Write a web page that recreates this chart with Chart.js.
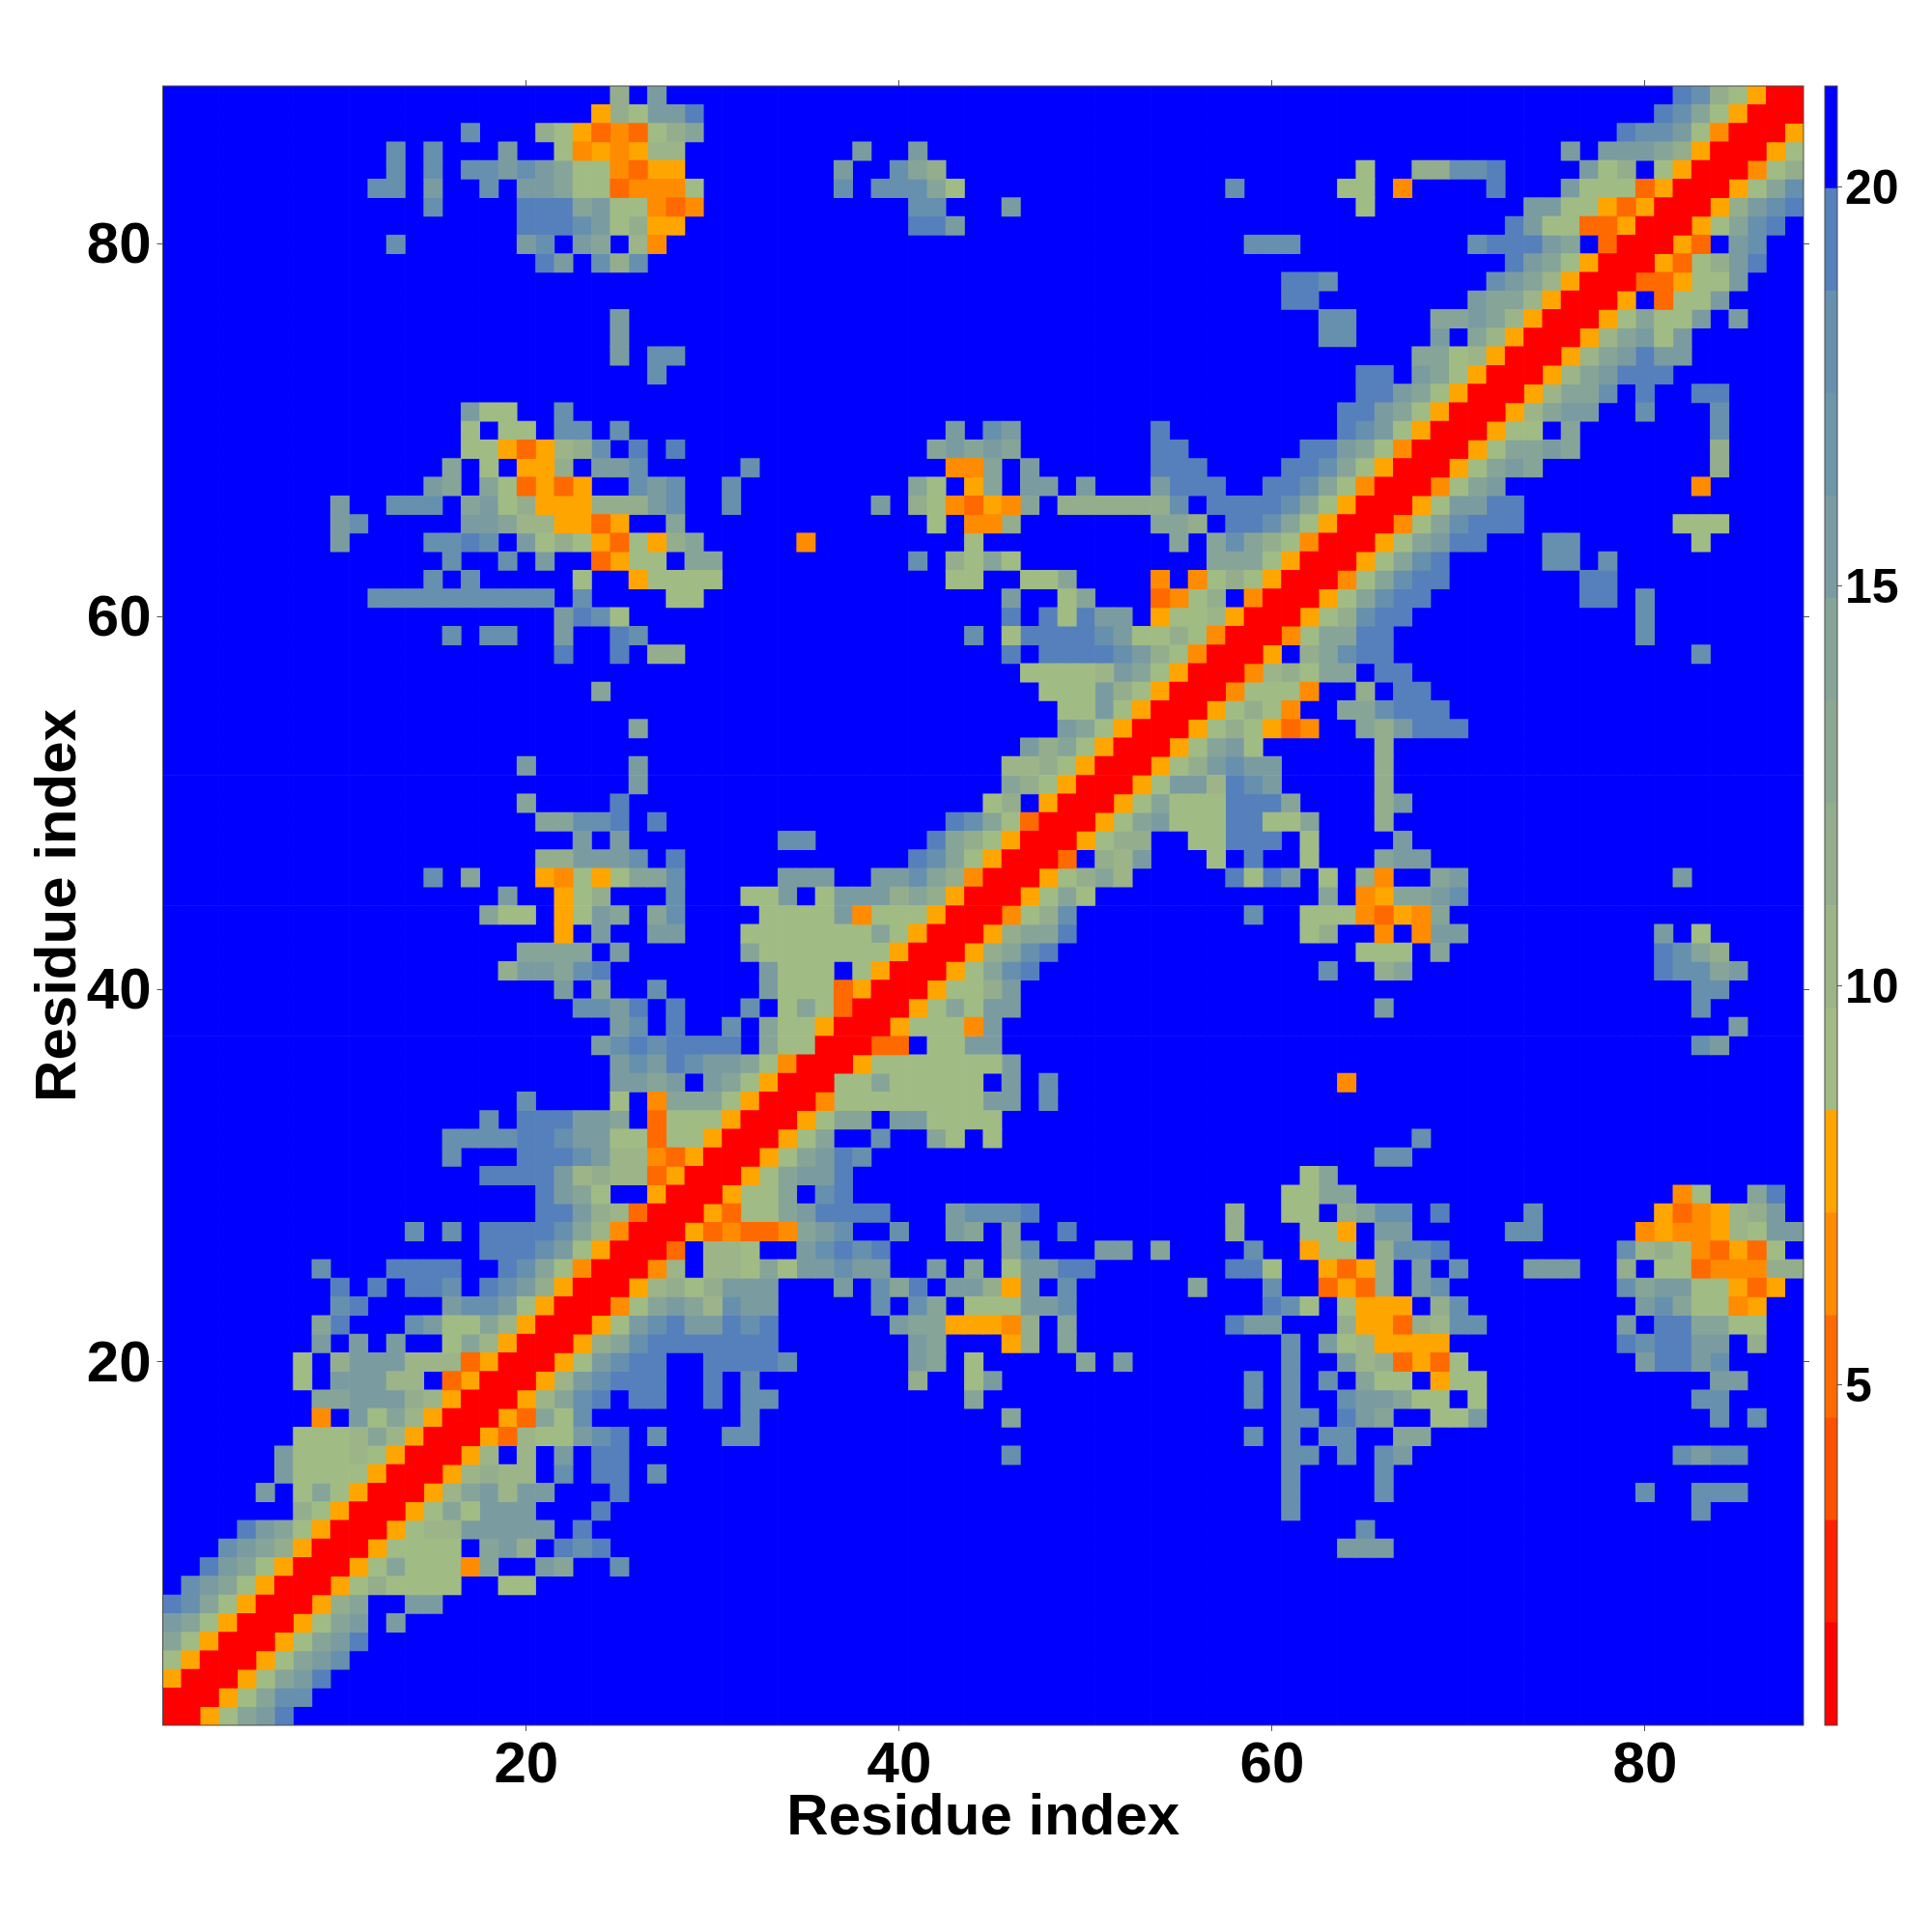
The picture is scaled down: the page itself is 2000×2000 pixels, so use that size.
<!DOCTYPE html>
<html><head><meta charset="utf-8">
<style>html,body{margin:0;padding:0;background:#fff}canvas{position:absolute;top:0}</style>
<script src="https://cdn.jsdelivr.net/npm/chart.js@4"></script></head>
<body><canvas id="map" width="2000" height="2000" style="left:0"></canvas>
<canvas id="bar" width="120" height="2000" style="left:1880px"></canvas>
<script>
const axisLabel = "Residue index";
const residueCount = 88;
const axisTicks = [20, 40, 60, 80];
const colorbarTicks = [5, 10, 15, 20];
const colorbarMin = 0.74, colorbarMax = 21.26;
const bandColors = ["#ff0000","#ff2000","#ff5000","#ff6a00","#ff8c00","#ffa500","#a1bb84","#9cb488","#94ad8c","#8da892","#86a598","#7a9ca0","#6d96a8","#6690ae","#5580bb","#0000ff"];
const bandOfCode = {"0":0,"3":3,"4":4,"5":5,"6":6,"7":7,"8":8,"9":10,"a":11,"b":13,"c":14,".":15};
// One list per residue y (1..88): [first residue x, band codes]; cells not listed are beyond the cutoff.
const contactRows = [
[[1,"0"]],
[[1,"00"]],
[[1,"500"]],
[[1,"6500"]],
[[1,"96500"]],
[[1,"a96500"]],
[[1,"cb96500"]],
[[2,"ba96500"]],
[[3,"ca96500"]],
[[4,"ba98500"]],
[[5,"ca96500"]],
[[8,"86500"]],
[[6,"a.696500"]],
[[7,"a6666500"]],
[[7,"a66676500"]],
[[8,"666797500"]],
[[9,"4.a697500"]],
[[9,"99aaa87500"]],
[[8,"6.aaa77.3500"]],
[[8,"6.8aaa7773500"]],
[[9,"a.a.a..697500"]],
[[9,"9c...ba6697500"]],
[[10,"bc....abba6500"]],
[[10,"c.c.ccb.cba8500"]],
[[9,"b...cccc..cb96400"]],
[[18,"cccba6500"]],
[[14,"b.b.ccccb97400"]],
[[21,"cca87300"]],
[[21,"ca96..500"]],
[[18,"cccca78773500"]],
[[16,"b...cccba7743500"]],
[[16,"bbbbccbaa66366500"]],
[[18,"b.cccaa9.3666500"]],
[[20,"b"],[25,"6.49996500"]],
[[25,"aa9a.a96500"]],
[[25,"abacbaa96400"]],
[[24,"abcbcccc.96600"]],
[[25,"ab.c..b.966500"]],
[[23,"bbac.c...b.696300"]],
[[22,"a.9..b.....a6663500"]],
[[19,"8aa9bc"],[33,"a666.6500"]],
[[20,"9999.a"],[32,"96666666500"]],
[[22,"5.a..aa"],[32,"666666696500"]],
[[18,"966.56a9.9b"],[33,"6666a4666500"]],
[[19,"a..568...b"],[32,"66a.6aaa898500"]],
[[15,"b.9...5465699b"],[34,"aaa..aab98400"]],
[[21,"88aaab.c"],[41,"cb96500"]],
[[23,"a.a"],[34,"bb"],[42,"c986500"]],
[[21,"99bbc.c"],[43,"cb96300"]],
[[20,"9....c"],[45,"68.500"]],
[[26,"a"],[46,"986500"]],
[[20,"a.....a"],[46,"7786500"]],
[[47,"a896500"]],
[[26,"9"],[49,"a96500"]],
[[49,"66a6500"]],
[[24,"9"],[48,"666a86500"]],
[[47,"66667a96500"]],
[[22,"c..c.88"],[46,"c.ccccba86400"]],
[[16,"b.bb..a..cb"],[44,"b.6ccccba6686400"]],
[[22,"acb6"],[46,"c.c6caa.5667500"]],
[[12,"bbbbbbbbbb.b"],[28,"66"],[46,"a..69...3468.400"]],
[[15,"b.b.....6..56666"],[43,"66..669....4.4686500"]],
[[16,"b..b.a..3566.99"],[41,"b.8696"],[57,"9996500"]],
[[10,"a....bbcb.a686536589"],[35,"4"],[44,"6"],[55,"9.9b986400"]],
[[10,"ab.....aa9775535..9"],[42,"6.448"],[54,"998.ccb96500"]],
[[10,"a..bbb.9a68555888ab"],[31,"b"],[39,"a.8643549.888888b.ccccb96500"]],
[[15,"a9.963535..bab"],[31,"b"],[41,"96.59.aa.a...accc"],[60,"ccb96400"]],
[[16,"9.6.558.aab"],[32,"b"],[43,"449.a"],[54,"ccc"],[61,"ccb96500"]],
[[17,"6653578b.c.c"],[42,"9a9a9"],[54,"cc"],[62,"cca96400"]],
[[17,"6.66.bb.b"],[43,"a.ba"],[54,"c"],[64,"cba6500"]],
[[17,"a66..b"],[64,"cca96500"]],
[[65,"cca96500"]],
[[27,"b"],[65,"cc.a96500"]],
[[25,"a.bb"],[68,"9967500"]],
[[25,"a"],[63,"bb"],[69,"a.97500"]],
[[25,"a"],[63,"bb"],[69,"99a97500"]],
[[61,"cc"],[71,"a997500"]],
[[61,"ccb"],[72,"ba97500"]],
[[21,"ca.b8b"],[73,"ca96500"]],
[[13,"b"],[20,"ab.a9.74"],[59,"bbb"],[71,"bccca9.300"]],
[[20,"cccba6855"],[41,"cca"],[73,"ca6633500"]],
[[15,"b"],[20,"ccc9a66434"],[41,"bb"],[46,"a"],[65,"6"],[74,"aa6653500"]],
[[12,"bb.a..b.aa96634446"],[37,"b.bbb96"],[58,"b"],[64,"66.4"],[72,"c"],[76,"a6663500"]],
[[13,"b.b.bbaba9664355"],[37,"a..b98"],[65,"6..88bbc"],[77,"a68.6500"]],
[[13,"b.b...a..6454577"],[38,"a..a"],[76,"a.aaa98500"]],
[[17,"b...865343689"],[79,"cbba6400"]],
[[24,"586aac"],[81,"cb96500"]],
[[25,"8.a"],[82,"cb86500"]]
];

const FONT = "'Liberation Sans', Arial, sans-serif";
const TICK = "#555";
const FRAME = {left:168.5, right:1867, top:89, bottom:1786};

// band of each cell; the map is a symmetric residue-residue matrix
const bands = [];
for (let y = 0; y < residueCount; y++) bands.push(new Array(residueCount).fill(15));
contactRows.forEach((segments, yi) => segments.forEach(([start, codes]) => {
  [...codes].forEach((c, i) => {
    const xi = start - 1 + i;
    bands[yi][xi] = bandOfCode[c];
    bands[xi][yi] = bandOfCode[c];
  });
}));
const cellsByBand = bandColors.map(() => []);
bands.forEach((row, yi) => row.forEach((b, xi) => cellsByBand[b].push({x: xi + 1, y: yi + 1})));

const frameLine = {
  id: "frameLine",
  afterDatasetsDraw(chart) {
    const a = chart.chartArea, c = chart.ctx;
    c.save(); c.strokeStyle = "#4a4a4a"; c.lineWidth = 1;
    c.strokeRect(a.left, a.top, a.right - a.left, a.bottom - a.top);
    c.restore();
  }
};
const setTicks = values => s => { s.ticks = values.map(v => ({value: v})); };
const fixed = (prop, size) => s => { s[prop] = size; };
const cellRadius = ctx => {
  const sx = ctx.chart.scales.x;
  return (sx.getPixelForValue(2) - sx.getPixelForValue(1) + 0.7) / Math.SQRT2;
};
const tickGrid = {drawOnChartArea: false, drawTicks: true, tickLength: 6, tickColor: TICK, tickWidth: 1, color: TICK};
const noBorder = {display: false};

new Chart(document.getElementById("map"), {
  type: "scatter",
  data: {datasets: cellsByBand.map((cells, b) => ({
    data: cells, backgroundColor: bandColors[b], borderWidth: 0,
    pointStyle: "rect", pointRadius: cellRadius, pointHoverRadius: cellRadius
  }))},
  options: {
    responsive: false, animation: false, devicePixelRatio: 1, events: [],
    layout: {padding: 0},
    plugins: {legend: {display: false}, tooltip: {enabled: false}},
    scales: {
      x: {type: "linear", position: "bottom", min: 0.5, max: 88.5,
        afterBuildTicks: setTicks(axisTicks), afterFit: fixed("height", 2000 - FRAME.bottom),
        grid: tickGrid, border: noBorder,
        ticks: {maxRotation: 0, autoSkip: false, color: "#000", padding: 0, font: {family: FONT, size: 60, weight: "bold"}},
        title: {display: true, text: axisLabel, color: "#000", padding: 82, font: {family: FONT, size: 60, weight: "bold"}}},
      x2: {type: "linear", position: "top", min: 0.5, max: 88.5,
        afterBuildTicks: setTicks(axisTicks), afterFit: fixed("height", FRAME.top),
        grid: tickGrid, border: noBorder,
        ticks: {callback: () => "", autoSkip: false}},
      y: {type: "linear", position: "left", min: 0.5, max: 88.5,
        afterBuildTicks: setTicks(axisTicks), afterFit: fixed("width", FRAME.left),
        grid: tickGrid, border: noBorder,
        ticks: {autoSkip: false, color: "#000", padding: 6, labelOffset: 3, font: {family: FONT, size: 60, weight: "bold"}},
        title: {display: true, text: axisLabel, color: "#000", padding: 25, font: {family: FONT, size: 60, weight: "bold"}}},
      y2: {type: "linear", position: "right", min: 0.5, max: 88.5,
        afterBuildTicks: setTicks(axisTicks), afterFit: fixed("width", 2000 - FRAME.right),
        grid: tickGrid, border: noBorder,
        ticks: {callback: () => "", autoSkip: false}}
    }
  },
  plugins: [frameLine]
});

const bandWidth = (colorbarMax - colorbarMin) / bandColors.length;
new Chart(document.getElementById("bar"), {
  type: "bar",
  data: {labels: [""], datasets: bandColors.map((color, b) => ({
    data: [[colorbarMin + b * bandWidth, colorbarMin + (b + 1) * bandWidth]],
    backgroundColor: color, borderWidth: 0, barPercentage: 1, categoryPercentage: 1, grouped: false
  }))},
  options: {
    responsive: false, animation: false, devicePixelRatio: 1, events: [],
    layout: {padding: {left: 9, top: FRAME.top, bottom: 2000 - FRAME.bottom, right: 0}},
    plugins: {legend: {display: false}, tooltip: {enabled: false}},
    scales: {
      x: {display: false},
      y: {type: "linear", position: "right", min: colorbarMin, max: colorbarMax,
        afterBuildTicks: setTicks(colorbarTicks), afterFit: fixed("width", 98),
        grid: {drawOnChartArea: false, drawTicks: true, tickLength: 5, tickColor: TICK},
        border: noBorder,
        ticks: {autoSkip: false, color: "#000", padding: 3, labelOffset: 4, font: {family: FONT, size: 50, weight: "bold"}}}
    }
  },
  plugins: [frameLine]
});
</script></body></html>
